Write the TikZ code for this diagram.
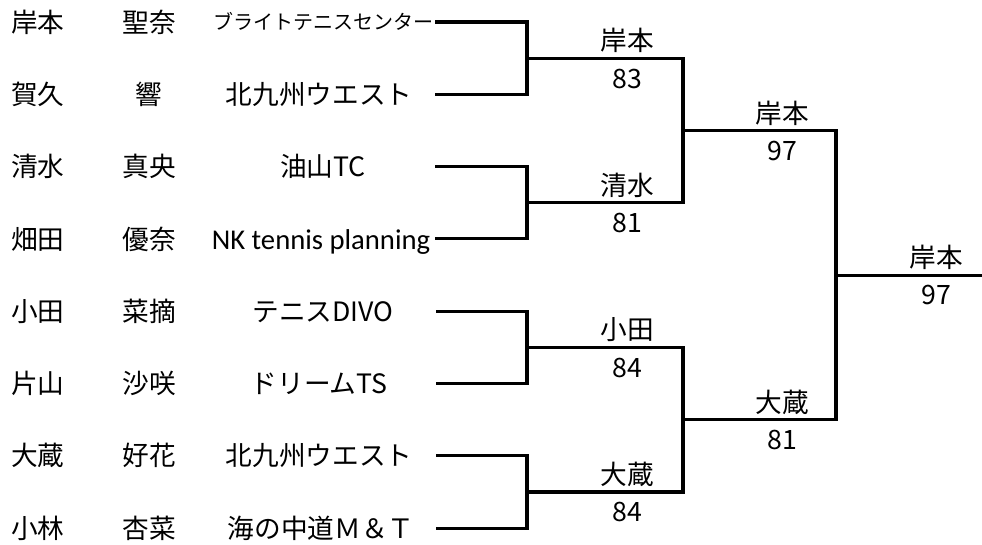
\documentclass[tikz,border=0pt]{standalone}
\usepackage{fontspec}
\setmainfont{Noto Sans CJK JP}
\newfontfamily\carlito{Carlito}

\begin{document}
\begin{tikzpicture}[x=0.75pt,y=-0.75pt,
    txt/.style={inner sep=0pt, font=\fontsize{20}{24}\selectfont, text height=17.6pt, text depth=2.4pt},
    sname/.style={txt, anchor=west},
    winner/.style={txt, anchor=south},
    score/.style={inner sep=0pt, font=\fontsize{20}{24}\selectfont, text height=14.7pt, text depth=0pt, anchor=north},
    bracket/.style={line width=2.3pt}]
    \useasboundingbox (0,0) rectangle (982,545);
    % players
    \node[sname] (n1) at (11,22) {岸本};
    \node[txt] (g1) at (149,22) {聖奈};
    \node[txt, font=\fontsize{15}{18}\selectfont, text height=13.2pt, text depth=1.8pt] (c1) at (323,22) {ブライトテニスセンター};
    \node[sname] (n2) at (11,94.3) {賀久};
    \node[txt] (g2) at (149,94.3) {響};
    \node[txt] (c2) at (319,94.3) {北九州ウエスト};
    \node[sname] (n3) at (11,166.6) {清水};
    \node[txt] (g3) at (149,166.6) {真央};
    \node[txt] (c3) at (323,166.6) {油山TC};
    \node[sname] (n4) at (11,238.9) {畑田};
    \node[txt] (g4) at (149,238.9) {優奈};
    \node[txt, font=\fontsize{21.5}{25}\carlito] (c4) at (321,238.9) {NK tennis planning};
    \node[sname] (n5) at (11,311.2) {小田};
    \node[txt] (g5) at (149,311.2) {菜摘};
    \node[txt] (c5) at (323,311.2) {テニスDIVO};
    \node[sname] (n6) at (11,383.5) {片山};
    \node[txt] (g6) at (149,383.5) {沙咲};
    \node[txt] (c6) at (319,383.5) {ドリームTS};
    \node[sname] (n7) at (11,455.8) {大蔵};
    \node[txt] (g7) at (149,455.8) {好花};
    \node[txt] (c7) at (319,455.8) {北九州ウエスト};
    \node[sname] (n8) at (11,528.1) {小林};
    \node[txt] (g8) at (149,528.1) {杏菜};
    \node[txt] (c8) at (321,528.1) {海の中道Ｍ＆Ｔ};

    \coordinate (a1) at (435,22);
    \coordinate (a2) at (435,94.3);
    \coordinate (a3) at (435,166.6);
    \coordinate (a4) at (435,238.9);
    \coordinate (a5) at (436,311.2);
    \coordinate (a6) at (436,383.5);
    \coordinate (a7) at (436,455.8);
    \coordinate (a8) at (436,528.1);
    \coordinate (b1) at (527,58.2);
    \coordinate (b2) at (527,202.8);
    \coordinate (b3) at (527,347.4);
    \coordinate (b4) at (527,492);
    \coordinate (r1) at (683,130.5);
    \coordinate (r2) at (683,419.7);
    \coordinate (f1) at (836,275.1);
    \coordinate (f2) at (982,275.1);

    % bracket lines
    \draw[bracket] (a1) -| (b1);
    \draw[bracket] (a2) -| (b1);
    \draw[bracket] (a3) -| (b2);
    \draw[bracket] (a4) -| (b2);
    \draw[bracket] (a5) -| (b3);
    \draw[bracket] (a6) -| (b3);
    \draw[bracket] (a7) -| (b4);
    \draw[bracket] (a8) -| (b4);
    \draw[bracket] (b1) -| (r1);
    \draw[bracket] (b2) -| (r1);
    \draw[bracket] (b3) -| (r2);
    \draw[bracket] (b4) -| (r2);
    \draw[bracket] (r1) -| (f1);
    \draw[bracket] (r2) -| (f1);
    \draw[bracket] (f1) -- (f2);

    % winners and scores
    \node[winner] (w1) at (627,54.2) {岸本};
    \node[score] (s1) at (627,68.2) {83};
    \node[winner] (w2) at (627,198.8) {清水};
    \node[score] (s2) at (627,212.8) {81};
    \node[winner] (w3) at (627,343.4) {小田};
    \node[score] (s3) at (627,357.4) {84};
    \node[winner] (w4) at (627,488) {大蔵};
    \node[score] (s4) at (627,502) {84};
    \node[winner] (w5) at (782,126.5) {岸本};
    \node[score] (s5) at (782,140.5) {97};
    \node[winner] (w6) at (782,415.7) {大蔵};
    \node[score] (s6) at (782,429.7) {81};
    \node[winner] (w7) at (936,271.1) {岸本};
    \node[score] (s7) at (936,285.1) {97};
\end{tikzpicture}
\end{document}
